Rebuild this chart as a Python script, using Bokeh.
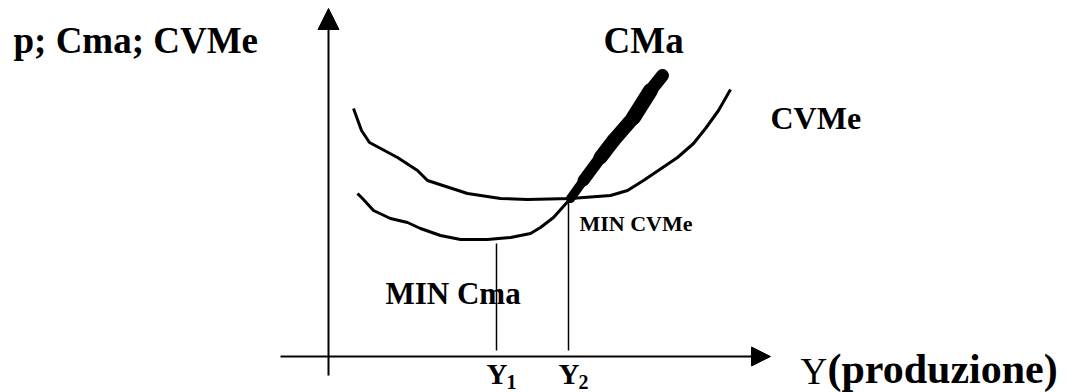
from bokeh.plotting import figure
from bokeh.models import Range1d, Arrow, NormalHead, Label, ColumnDataSource
from bokeh.embed import file_html
from bokeh.resources import INLINE

# ---- data (schematic units: x = production, y = cost) ----
cvme_x = [2.5, 3.3, 4.1, 6.9, 8.9, 9.9, 13.9, 17.2, 19.9, 24.2, 28.2, 29.9, 31.5, 34.9, 36.5, 37.7, 39.0, 40.2]
cvme_y = [24.8, 22.6, 21.4, 19.9, 18.6, 17.6, 16.3, 15.8, 15.7, 15.8, 16.1, 16.6, 17.6, 19.9, 21.3, 22.8, 24.6, 26.7]

cma_x = [2.9, 3.4, 4.5, 6.2, 7.9, 9.2, 11.2, 13.2, 15.9, 18.2, 20.2, 21.2, 22.5, 24.2]
cma_y = [16.3, 15.8, 14.6, 13.8, 13.4, 12.8, 12.1, 11.7, 11.7, 11.9, 12.3, 12.9, 13.9, 15.8]

cma_up_x = [24.2, 25.5, 27.2, 28.5, 30.5, 32.2, 33.4]
cma_up_y = [15.8, 17.6, 19.9, 21.6, 23.9, 26.6, 28.1]
cma_up_w = [9, 12, 14, 14, 15, 13]

y1_x = 16.8
y1_top = 11.3
y2_x = 24.0
y2_top = 15.8
drop_bottom = 0.6

labels = ["p; Cma; CVMe", "CMa", "CVMe", "MIN CVMe", "MIN Cma"]
x_label = ["Y", "(produzione)"]
ticks = ["Y", "1", "Y", "2"]

FONT = "Liberation Serif"

p = figure(width=1068, height=392, output_backend="svg", toolbar_location=None,
           x_range=Range1d(-32.8, 74.0), y_range=Range1d(-3.6, 35.6),
           min_border=0)
p.axis.visible = False
p.grid.visible = False
p.outline_line_color = None
p.background_fill_color = "white"

# axes with arrows
p.add_layout(Arrow(end=NormalHead(size=21, fill_color="black", line_color="black"),
                   x_start=0, y_start=-1.9, x_end=0, y_end=34.8,
                   line_width=2, line_color="black"))
p.add_layout(Arrow(end=NormalHead(size=19, fill_color="black", line_color="black"),
                   x_start=-4.8, y_start=0, x_end=44.2, y_end=0,
                   line_width=2, line_color="black"))

# curves
p.line(cvme_x, cvme_y, line_width=3, line_color="black", line_join="round")
p.line(cma_x, cma_y, line_width=3, line_color="black", line_join="round")
src = ColumnDataSource(dict(x0=cma_up_x[:-1], y0=cma_up_y[:-1],
                            x1=cma_up_x[1:], y1=cma_up_y[1:], w=cma_up_w))
p.segment("x0", "y0", "x1", "y1", source=src, line_width="w",
          line_color="black", line_cap="round")

# drop lines
p.segment([y1_x, y2_x], [y1_top, y2_top], [y1_x, y2_x], [drop_bottom, drop_bottom],
          line_width=1.5, line_color="black")

def lab(x, y, t, size, style="bold"):
    # y is the baseline; shift compensates the label's baseline placement
    p.add_layout(Label(x=x, y=y + 0.04 * size, text=t, text_font=FONT,
                       text_font_size=f"{size}px",
                       text_font_style=style, text_color="black",
                       text_baseline="alphabetic", text_align="left"))

lab(-31.5, 30.1, labels[0], 37)
lab(27.5, 30.1, labels[1], 37)
lab(44.2, 22.6, labels[2], 32)
lab(25.1, 12.4, labels[3], 22)
lab(5.7, 5.1, labels[4], 31)

# tick-like labels
lab(15.8, -2.9, ticks[0], 29)
lab(17.8, -3.3, ticks[1], 20)
lab(23.0, -2.9, ticks[2], 29)
lab(25.0, -3.3, ticks[3], 20)
lab(47.2, -3.0, x_label[0], 37, "normal")
lab(49.9, -2.9, x_label[1], 42)

open("out.html", "w").write(file_html(p, INLINE))
